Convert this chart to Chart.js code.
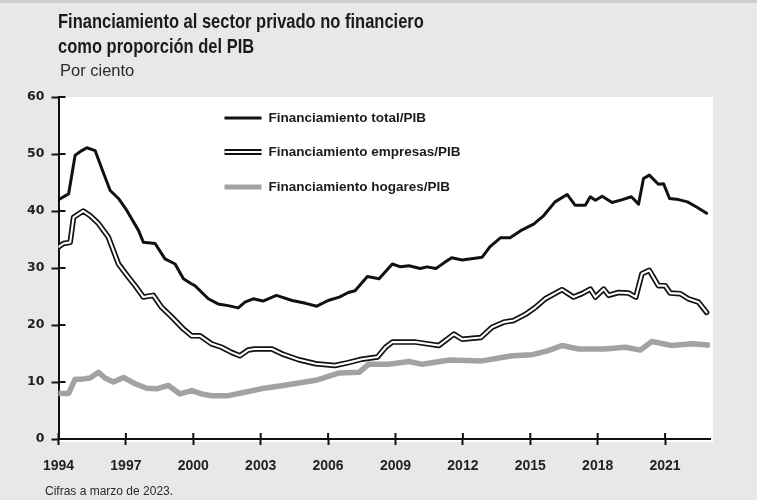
<!DOCTYPE html>
<html lang="es">
<head>
    <meta charset="UTF-8">
    <script src="https://cdn.jsdelivr.net/npm/chart.js@4.4.1/dist/chart.umd.min.js"></script>
    <title>Financiamiento al sector privado no financiero</title>
    <style>
        html, body { margin: 0; padding: 0; background: #e8e8e8; }
        .wrap { position: relative; width: 757px; height: 500px; overflow: hidden; }
        .strip { position: absolute; left: 0; top: 0; width: 757px; height: 3px; background: #cdcdcd; }
        .title { position: absolute; left: 58px; top: 9px; font-family: "Liberation Sans", Arial, sans-serif; font-weight: bold; font-size: 16.5px; line-height: 20.5px; color: #1b1b1b; transform: scaleY(1.18); transform-origin: 0 0; }
        .sub { position: absolute; left: 60px; top: 61px; font-family: "Liberation Sans", Arial, sans-serif; font-size: 16.5px; color: #2a2a2a; }
        .note { position: absolute; left: 45px; top: 484px; font-family: "Liberation Sans Narrow", "Liberation Sans", Arial, sans-serif; font-size: 12px; color: #2a2a2a; }
        canvas { position: absolute; left: 0; top: 0; }
    </style>
</head>
<body>
<div class="wrap">
    <div class="strip"></div>
    <canvas id="chart" width="757" height="500"></canvas>
    <div class="title">Financiamiento al sector privado no financiero<br>como proporción del PIB</div>
    <div class="sub">Por ciento</div>
    <div class="note">Cifras a marzo de 2023.</div>
</div>

<script>
    // tick labels
    const tickYears = [1994, 1997, 2000, 2003, 2006, 2009, 2012, 2015, 2018, 2021];

    // Financiamiento total/PIB
    const totalYears = [1994.0, 1994.45, 1994.74, 1995.04, 1995.26, 1995.63, 1995.93, 1996.3, 1996.67, 1997.04,
        1997.56, 1997.78, 1998.3, 1998.74, 1999.19, 1999.56, 1999.93, 2000.07, 2000.67, 2001.1,
        2001.55, 2002.0, 2002.3, 2002.67, 2003.1, 2003.7, 2004.4, 2005.0, 2005.5, 2006.0,
        2006.5, 2006.9, 2007.2, 2007.75, 2008.27, 2008.86, 2009.23, 2009.6, 2010.1, 2010.4,
        2010.8, 2011.16, 2011.5, 2011.97, 2012.86, 2013.2, 2013.67, 2014.1, 2014.64, 2015.15,
        2015.6, 2016.1, 2016.64, 2017.0, 2017.45, 2017.67, 2017.9, 2018.2, 2018.64, 2019.1,
        2019.5, 2019.82, 2020.04, 2020.3, 2020.7, 2020.93, 2021.2, 2021.6, 2022.0, 2022.4, 2022.85];
    const totalValues = [42.0, 43.0, 49.8, 50.6, 51.1, 50.6, 47.4, 43.6, 42.2, 40.1,
        36.6, 34.5, 34.3, 31.6, 30.7, 28.1, 27.2, 26.9, 24.6, 23.7,
        23.4, 23.0, 24.0, 24.6, 24.2, 25.2, 24.3, 23.8, 23.3, 24.3,
        24.9, 25.7, 26.0, 28.5, 28.1, 30.7, 30.2, 30.4, 29.9, 30.2,
        29.9, 30.9, 31.8, 31.4, 31.9, 33.7, 35.3, 35.3, 36.7, 37.7,
        39.2, 41.6, 42.9, 41.0, 41.0, 42.5, 41.9, 42.6, 41.5, 42.0,
        42.5, 41.2, 45.7, 46.3, 44.7, 44.8, 42.2, 42.0, 41.6, 40.7, 39.6];

    // Financiamiento empresas/PIB
    const empresasYears = [1994.0, 1994.22, 1994.52, 1994.67, 1995.1, 1995.4, 1995.78, 1996.22, 1996.67, 1997.11,
        1997.41, 1997.78, 1998.22, 1998.59, 1999.04, 1999.56, 1999.93, 2000.3, 2000.81, 2001.26,
        2001.7, 2002.07, 2002.44, 2002.74, 2003.5, 2003.97, 2004.7, 2005.45, 2006.3, 2006.9,
        2007.5, 2008.2, 2008.56, 2008.86, 2009.9, 2010.93, 2011.6, 2011.97, 2012.8, 2013.3,
        2013.82, 2014.27, 2014.8, 2015.23, 2015.67, 2016.41, 2016.93, 2017.3, 2017.67, 2017.9,
        2018.27, 2018.49, 2018.93, 2019.38, 2019.7, 2019.97, 2020.3, 2020.7, 2021.0, 2021.23,
        2021.67, 2022.04, 2022.49, 2022.85];
    const empresasValues = [33.7, 34.3, 34.5, 38.9, 40.0, 39.2, 37.8, 35.4, 30.7, 28.4,
        26.9, 24.9, 25.2, 23.1, 21.4, 19.3, 18.1, 18.1, 16.7, 16.1,
        15.2, 14.6, 15.6, 15.8, 15.8, 14.9, 13.9, 13.2, 12.9, 13.4,
        14.0, 14.4, 16.1, 17.0, 17.0, 16.4, 18.4, 17.5, 17.8, 19.6,
        20.5, 20.8, 21.9, 23.1, 24.6, 26.2, 24.9, 25.5, 26.3, 24.9,
        26.3, 25.2, 25.7, 25.6, 24.9, 29.0, 29.6, 26.9, 26.9, 25.6,
        25.5, 24.6, 24.0, 22.2];

    // Financiamiento hogares/PIB
    const hogaresYears = [1994.0, 1994.45, 1994.74, 1995.04, 1995.41, 1995.78, 1996.07, 1996.44, 1996.89, 1997.41,
        1997.93, 1998.37, 1998.89, 1999.41, 1999.93, 2000.37, 2000.81, 2001.56, 2002.3, 2003.0,
        2004.0, 2005.45, 2006.5, 2007.38, 2007.8, 2008.7, 2009.6, 2010.2, 2011.4, 2012.86,
        2013.6, 2014.2, 2015.1, 2015.8, 2016.41, 2017.15, 2018.3, 2019.23, 2019.9, 2020.41,
        2021.3, 2022.2, 2022.9];
    const hogaresValues = [8.0, 8.0, 10.5, 10.5, 10.7, 11.7, 10.7, 10.0, 10.8, 9.7,
        8.9, 8.8, 9.4, 7.9, 8.5, 7.9, 7.6, 7.6, 8.2, 8.8,
        9.4, 10.3, 11.6, 11.7, 13.1, 13.1, 13.6, 13.1, 13.85, 13.7,
        14.2, 14.6, 14.8, 15.5, 16.4, 15.8, 15.8, 16.1, 15.6, 17.1,
        16.4, 16.7, 16.5];

    function points(xs, ys) {
        return xs.map((x, i) => ({x: x, y: ys[i]}));
    }

    const plotBackground = {
        id: 'plotBackground',
        beforeDraw(chart) {
            const {ctx, chartArea} = chart;
            ctx.save();
            ctx.fillStyle = '#ffffff';
            ctx.fillRect(chartArea.left, chartArea.top, chartArea.right - chartArea.left + 3, chartArea.bottom - chartArea.top + 3);
            ctx.restore();
        }
    };

    // tick marks also reach into the plot, so they cross the axis
    const crossTicks = {
        id: 'crossTicks',
        afterDraw(chart) {
            const {ctx, chartArea, scales} = chart;
            ctx.save();
            ctx.strokeStyle = '#111';
            ctx.lineWidth = 2;
            ctx.beginPath();
            scales.x.ticks.forEach(t => {
                const px = scales.x.getPixelForValue(t.value);
                ctx.moveTo(px, chartArea.bottom);
                ctx.lineTo(px, chartArea.bottom - 6);
            });
            scales.y.ticks.forEach(t => {
                const py = scales.y.getPixelForValue(t.value);
                ctx.moveTo(chartArea.left, py);
                ctx.lineTo(chartArea.left + 7, py);
            });
            ctx.stroke();
            ctx.restore();
        }
    };

    const innerLegend = {
        id: 'innerLegend',
        afterDraw(chart) {
            const {ctx, chartArea} = chart;
            const x0 = chartArea.left + 166;
            const x1 = x0 + 37;
            const rows = [
                {label: 'Financiamiento total/PIB', y: chartArea.top + 21, style: 'total'},
                {label: 'Financiamiento empresas/PIB', y: chartArea.top + 55, style: 'empresas'},
                {label: 'Financiamiento hogares/PIB', y: chartArea.top + 90, style: 'hogares'}
            ];
            ctx.save();
            ctx.lineCap = 'butt';
            rows.forEach(r => {
                if (r.style === 'total') {
                    ctx.strokeStyle = '#111'; ctx.lineWidth = 3;
                    ctx.beginPath(); ctx.moveTo(x0, r.y); ctx.lineTo(x1, r.y); ctx.stroke();
                } else if (r.style === 'empresas') {
                    ctx.strokeStyle = '#111'; ctx.lineWidth = 6;
                    ctx.beginPath(); ctx.moveTo(x0, r.y); ctx.lineTo(x1, r.y); ctx.stroke();
                    ctx.strokeStyle = '#fff'; ctx.lineWidth = 2;
                    ctx.beginPath(); ctx.moveTo(x0, r.y); ctx.lineTo(x1, r.y); ctx.stroke();
                } else {
                    ctx.strokeStyle = '#a2a2a2'; ctx.lineWidth = 5;
                    ctx.beginPath(); ctx.moveTo(x0, r.y); ctx.lineTo(x1, r.y); ctx.stroke();
                }
                ctx.fillStyle = '#1b1b1b';
                ctx.font = 'bold 13.5px "Liberation Sans", Arial, sans-serif';
                ctx.textBaseline = 'middle';
                ctx.fillText(r.label, x1 + 7, r.y);
            });
            ctx.restore();
        }
    };

    const lineBase = {pointRadius: 0, tension: 0, borderJoinStyle: 'round', borderCapStyle: 'round', fill: false};

    // "order": higher numbers are drawn first, lower ones end on top
    new Chart(document.getElementById('chart'), {
        type: 'line',
        data: {
            datasets: [
                Object.assign({label: 'Financiamiento hogares/PIB', data: points(hogaresYears, hogaresValues),
                    borderColor: '#a2a2a2', borderWidth: 5.5, order: 4}, lineBase),
                Object.assign({label: 'Financiamiento empresas/PIB', data: points(empresasYears, empresasValues),
                    borderColor: '#111111', borderWidth: 5.5, order: 3}, lineBase),
                Object.assign({label: 'empresas (centro)', data: points(empresasYears, empresasValues),
                    borderColor: '#ffffff', borderWidth: 2.1, order: 2}, lineBase),
                Object.assign({label: 'Financiamiento total/PIB', data: points(totalYears, totalValues),
                    borderColor: '#111111', borderWidth: 3, order: 1}, lineBase)
            ]
        },
        options: {
            responsive: false,
            animation: false,
            layout: {padding: {top: 97, right: 47, bottom: 0, left: 0}},
            plugins: {legend: {display: false}, tooltip: {enabled: false}},
            scales: {
                x: {
                    type: 'linear',
                    min: 1994,
                    max: 2023,
                    afterBuildTicks: (scale) => { scale.ticks = tickYears.map(v => ({value: v})); },
                    afterFit: (scale) => { scale.height = 61; },
                    ticks: {
                        callback: (v) => String(v),
                        color: '#222',
                        padding: 13,
                        maxRotation: 0,
                        autoSkip: false,
                        font: {family: '"Liberation Sans", Arial, sans-serif', weight: 'bold', size: 14}
                    },
                    grid: {drawOnChartArea: false, tickLength: 6, tickWidth: 2, tickColor: '#111'},
                    border: {color: '#111', width: 2}
                },
                y: {
                    min: 0,
                    max: 60,
                    afterFit: (scale) => { scale.width = 58.5; },
                    ticks: {
                        stepSize: 10,
                        color: '#222',
                        padding: 7,
                        font: {family: '"DejaVu Sans", sans-serif', weight: 'bold', size: 12.5}
                    },
                    grid: {drawOnChartArea: false, tickLength: 7, tickWidth: 2, tickColor: '#111'},
                    border: {color: '#111', width: 2}
                }
            }
        },
        plugins: [plotBackground, crossTicks, innerLegend]
    });
</script>
</body>
</html>
